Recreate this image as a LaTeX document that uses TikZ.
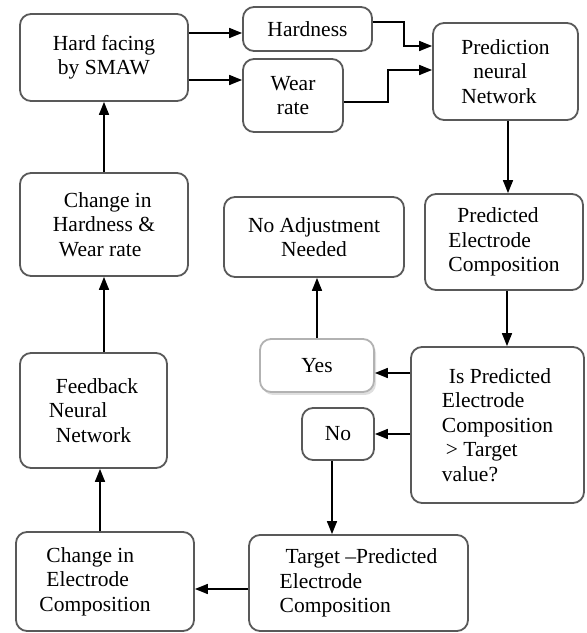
\documentclass[tikz,border=0pt]{standalone}
\usepackage{fontspec}
\setmainfont{Liberation Serif}
\usetikzlibrary{arrows.meta,shadows}
\begin{document}
\begin{tikzpicture}[x=1pt,y=1pt,
  box/.style={draw=black!65,line width=1.8pt,rounded corners=11pt,align=left,inner sep=0pt,
    font=\fontsize{21.5}{24.5}\selectfont},
  arr/.style={-{Triangle[length=13pt,width=10pt]},line width=1.6pt}]
  \useasboundingbox (0,0) rectangle (587,633);
  % Top row
  \node[box,minimum width=168,minimum height=87,align=center] (smaw) at (104,575.5) {Hard facing\\by SMAW};
  \node[box,minimum width=129,minimum height=44,align=center] (hardness) at (307.5,604) {Hardness};
  \node[box,minimum width=100,minimum height=73,align=center] (wear) at (293,537.5) {Wear\\rate};
  \node[box,minimum width=145,minimum height=97] (prednn) at (505.5,561.5) {Prediction\\\hspace{12pt}neural\\Network};
  % Middle
  \node[box,minimum width=158,minimum height=96] (predcomp) at (504,391) {\hspace{9pt}Predicted\\Electrode\\Composition};
  \node[box,minimum width=180,minimum height=80,align=center] (noadj) at (314,396) {No Adjustment\\Needed};
  \node[box,draw=black!30,fill=white,minimum width=114,minimum height=53,align=center,
    drop shadow={opacity=0.25,shadow xshift=2pt,shadow yshift=-3pt}] (yes) at (317,267.5) {Yes};
  \node[box,minimum width=72,minimum height=52,align=center] (no) at (338,199) {No};
  \node[box,minimum width=173,minimum height=156] (isbox) at (497.5,208) {\hspace{7pt}Is Predicted\\Electrode\\Composition\\\hspace{4pt}> Target\\value?};
  % Left column
  \node[box,minimum width=168,minimum height=103] (chgwear) at (104,408.5) {\hspace{11pt}Change in\\Hardness \&\\\hspace{6pt}Wear rate};
  \node[box,minimum width=147,minimum height=115] (feedback) at (93.5,222.5) {\hspace{7pt}Feedback\\Neural\\\hspace{7pt}Network};
  % Bottom row
  \node[box,minimum width=178,minimum height=99] (chgcomp) at (105,51.5) {\hspace{7pt}Change in\\\hspace{7pt}Electrode\\Composition\hspace{20pt}\mbox{}};
  \node[box,minimum width=219,minimum height=96] (target) at (358.5,50) {\hspace{6pt}Target –Predicted\\Electrode\\Composition};
  % Connectors
  \draw[arr] ([yshift=-4pt]hardness.west -| smaw.east) -- ([yshift=-4pt]hardness.west);
  \draw[arr] ([yshift=15.5pt]wear.west -| smaw.east) -- ([yshift=15.5pt]wear.west);
  \draw[arr] ([yshift=7pt]hardness.east) -- ++(31,0) |- ([yshift=25.5pt]prednn.west);
  \draw[arr] ([yshift=-6.5pt]wear.east) -- ++(44,0) |- ([yshift=1.5pt]prednn.west);
  \draw[arr] ([xshift=2.5pt]prednn.south) -- ([xshift=2.5pt]prednn.south |- predcomp.north);
  \draw[arr] ([xshift=3pt]predcomp.south) -- ([xshift=3pt]predcomp.south |- isbox.north);
  \draw[arr] ([yshift=-7.5pt]yes.east -| isbox.west) -- ([yshift=-7.5pt]yes.east);
  \draw[arr] (no.east -| isbox.west) -- (no.east);
  \draw[arr] (yes.north) -- (yes.north |- noadj.south);
  \draw[arr] ([xshift=-6pt]no.south) -- ([xshift=-6pt]no.south |- target.north);
  \draw[arr] ([yshift=-7.5pt]chgcomp.east -| target.west) -- ([yshift=-7.5pt]chgcomp.east);
  \draw[arr] ([xshift=-5pt]chgcomp.north) -- ([xshift=-5pt]chgcomp.north |- feedback.south);
  \draw[arr] (chgwear.south |- feedback.north) -- (chgwear.south);
  \draw[arr] (chgwear.north) -- (smaw.south);
\end{tikzpicture}
\end{document}
